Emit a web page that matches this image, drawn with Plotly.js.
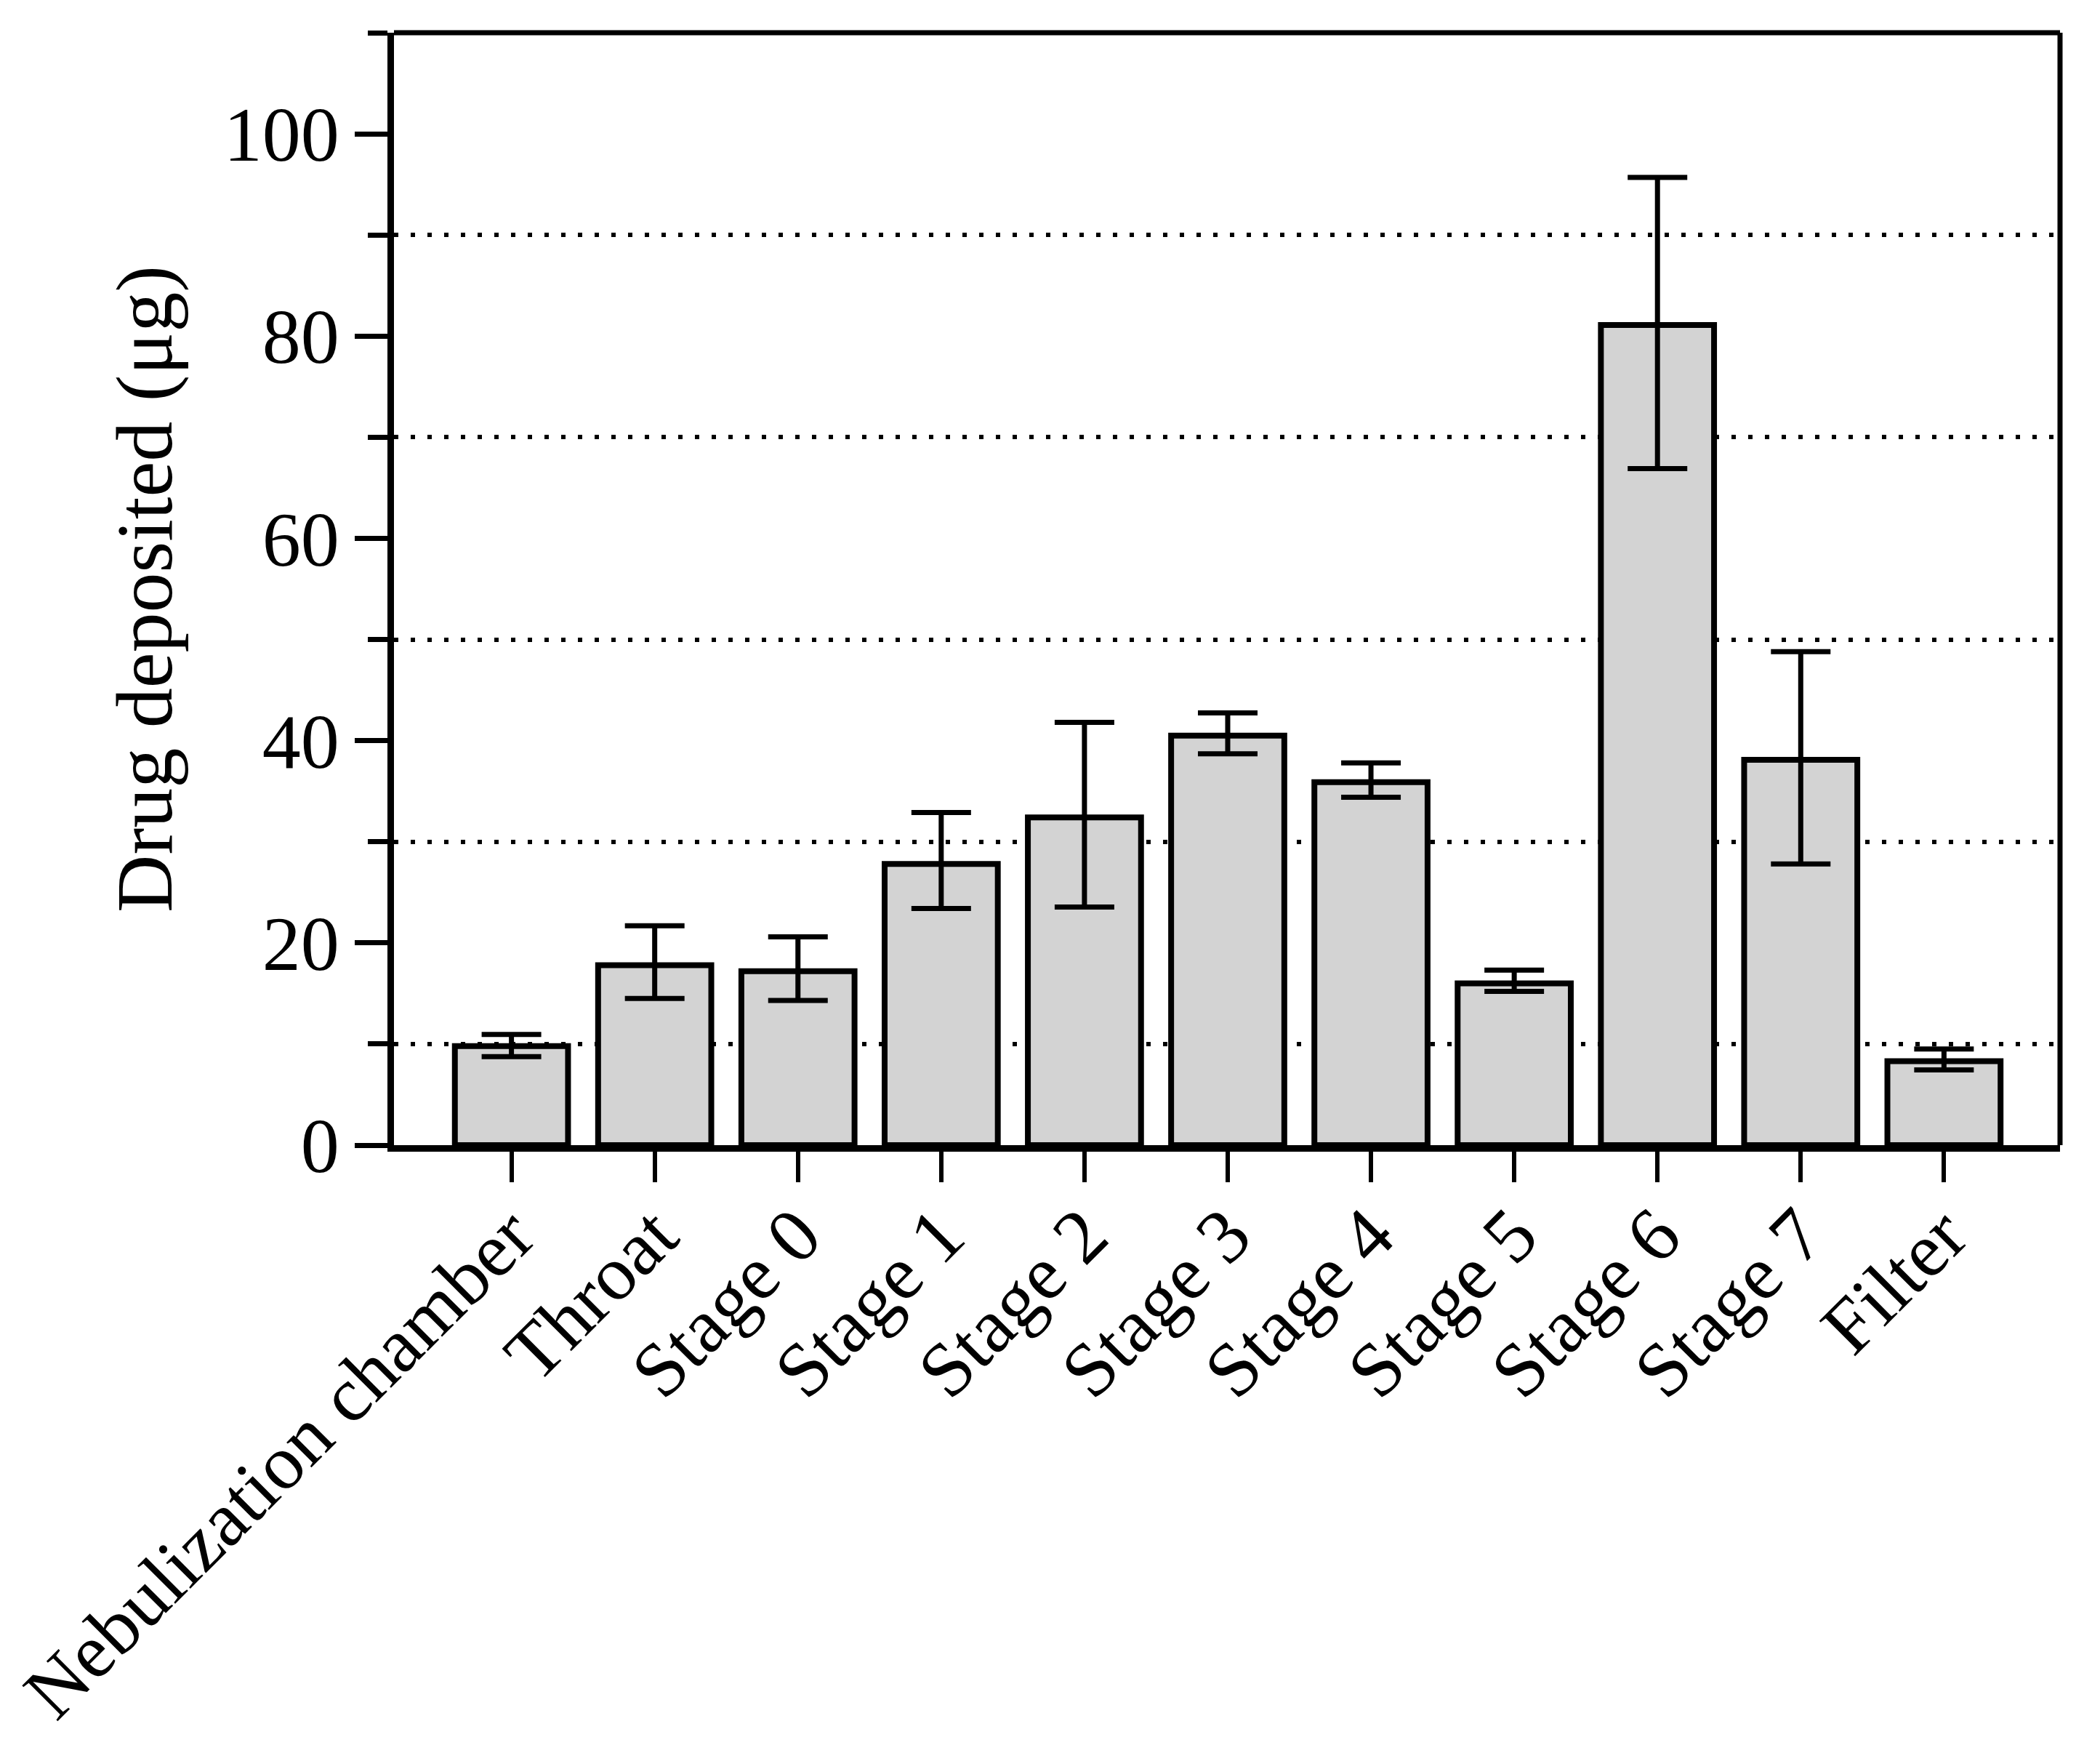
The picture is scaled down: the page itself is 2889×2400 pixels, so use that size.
<!DOCTYPE html>
<html>
<head>
<meta charset="utf-8">
<script src="https://cdn.plot.ly/plotly-3.0.1.min.js"></script>
<style>html,body{margin:0;padding:0;background:#fff;}</style>
</head>
<body>
<div id="chart" style="width:2889px;height:2400px;"></div>
<script>
const categories = ["Nebulization chamber", "Throat", "Stage 0", "Stage 1", "Stage 2", "Stage 3", "Stage 4", "Stage 5", "Stage 6", "Stage 7", "Filter"];
const depositedMean = [9.8, 17.8, 17.2, 27.8, 32.4, 40.5, 35.9, 16.0, 81.1, 38.1, 8.3];
const errorPlus = [1.15, 3.9, 3.4, 5.1, 9.4, 2.25, 1.9, 1.3, 14.6, 10.7, 1.2];
const errorMinus = [1.05, 3.3, 2.9, 4.4, 8.85, 1.8, 1.5, 0.8, 14.2, 10.3, 0.85];
const yTickValues = [0, 20, 40, 60, 80, 100];

const FONT = "Liberation Serif";

const trace = {
  type: "bar",
  x: categories,
  y: depositedMean,
  width: 0.79,
  marker: { color: "#d3d3d3", line: { color: "#000", width: 8 } },
  error_y: {
    type: "data",
    symmetric: false,
    array: errorPlus,
    arrayminus: errorMinus,
    color: "#000",
    thickness: 7,
    width: 41
  },
  hoverinfo: "none"
};

const layout = {
  width: 2889,
  height: 2400,
  margin: { l: 542, r: 55, t: 45, b: 825 },
  paper_bgcolor: "#fff",
  plot_bgcolor: "#fff",
  showlegend: false,
  font: { family: FONT, color: "#000", size: 110 },
  xaxis: {
    type: "category",
    range: [-0.82, 10.81],
    showline: true,
    linecolor: "#000",
    linewidth: 9,
    ticks: "outside",
    ticklen: 42,
    tickwidth: 6,
    tickcolor: "#000",
    tickangle: -45,
    ticklabelstandoff: -32,
    tickfont: { family: FONT, size: 106, color: "#000" },
    showgrid: false,
    zeroline: false
  },
  yaxis: {
    range: [0, 110],
    tickvals: yTickValues,
    ticktext: yTickValues.map(String),
    showline: true,
    linecolor: "#000",
    linewidth: 9,
    ticks: "outside",
    ticklen: 45,
    tickwidth: 7,
    tickcolor: "#000",
    tickfont: { family: FONT, size: 106, color: "#000" },
    showgrid: false,
    zeroline: false,
    minor: {
      tick0: 10,
      dtick: 20,
      ticks: "outside",
      ticklen: 27,
      tickwidth: 7,
      tickcolor: "#000",
      showgrid: true,
      gridcolor: "#000",
      gridwidth: 6,
      griddash: "6px,17px"
    },
    title: {
      text: "Drug deposited (μg)",
      font: { family: FONT, size: 110, color: "#000" },
      standoff: 38
    }
  },
  shapes: [
    { type: "line", xref: "paper", yref: "paper", x0: 0, x1: 1, y0: 1, y1: 1, line: { color: "#000", width: 7 } },
    { type: "line", xref: "paper", yref: "paper", x0: 1, x1: 1, y0: 0, y1: 1, line: { color: "#000", width: 7 } }
  ]
};

Plotly.newPlot("chart", [trace], layout, { staticPlot: true, displayModeBar: false });
</script>
</body>
</html>
